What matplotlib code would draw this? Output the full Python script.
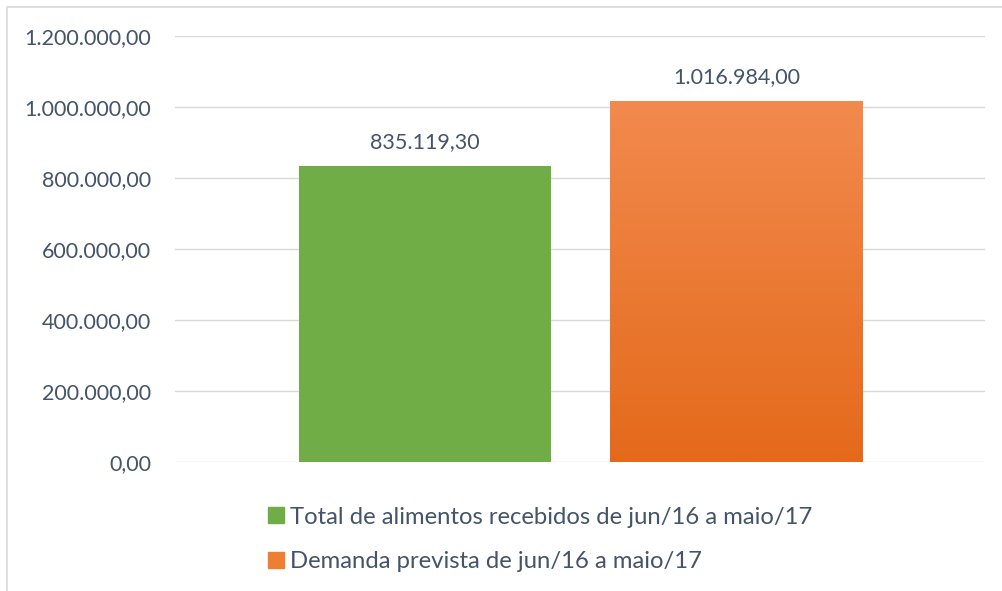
import matplotlib
matplotlib.use("Agg")
import matplotlib.pyplot as plt
import numpy as np
from matplotlib.patches import Rectangle
from matplotlib.colors import LinearSegmentedColormap

categories = ["Total de alimentos recebidos de jun/16 a maio/17",
              "Demanda prevista de jun/16 a maio/17"]
values = [835119.30, 1016984.00]
labels = ["835.119,30", "1.016.984,00"]
yticks = [0, 200000, 400000, 600000, 800000, 1000000, 1200000]
ytick_labels = ["0,00", "200.000,00", "400.000,00", "600.000,00",
                "800.000,00", "1.000.000,00", "1.200.000,00"]

plt.rcParams['font.family'] = ['Lato', 'DejaVu Sans']
txt = '#44546A'
fs = 15.5

W, H = 1003, 591
fig = plt.figure(figsize=(W/100, H/100), dpi=100)
fig.patches.append(Rectangle((7.5/W, -0.1), 1.2, 1.1 - 7/H, transform=fig.transFigure,
                             fill=False, edgecolor='#D9D9D9', lw=1.2))
ax = fig.add_axes([175/W, 1 - 462/H, (985-175)/W, (462-36)/H])
x = np.arange(len(values))
width = 0.81
bars = ax.bar(x, values, width=width, color=['#70AD47', '#F07F2F'], zorder=2)

# gradient on orange bar
b = bars[1]
cmap = LinearSegmentedColormap.from_list('g', ['#E46A1B', '#F28A4E'])
grad = np.linspace(0, 1, 256).reshape(-1, 1)
xl, yl = b.get_x(), b.get_height()
im = ax.imshow(grad, cmap=cmap, aspect='auto', origin='lower',
               extent=[xl, xl + b.get_width(), 0, yl], zorder=2.5)
im.set_clip_path(b)

for xi, v, lab in zip(x, values, labels):
    ax.annotate(lab, (xi, v), xytext=(0, 10), textcoords='offset points',
                ha='center', va='bottom', fontsize=fs, color=txt)

ax.set_xlim(-0.804, 1.799)
ax.set_ylim(0, 1200000)
ax.set_yticks(yticks)
ax.set_yticklabels(ytick_labels, fontsize=fs, color=txt)
ax.set_xticks([])
ax.tick_params(axis='y', length=0, pad=17)
ax.grid(axis='y', color='#D9D9D9', lw=1, zorder=0)
for s in ax.spines.values():
    s.set_visible(False)

handles = [Rectangle((0, 0), 1, 1, color='#70AD47'), Rectangle((0, 0), 1, 1, color='#EE7E32')]
leg = fig.legend(handles, categories, loc='upper left', bbox_to_anchor=(258/W, 1 - 497/H),
                 frameon=False, fontsize=17.2, labelcolor=txt, handlelength=0.68,
                 handleheight=0.68, handletextpad=0.25, labelspacing=1.0, borderaxespad=0)
fig.savefig('out.png', dpi=100, facecolor='white')
